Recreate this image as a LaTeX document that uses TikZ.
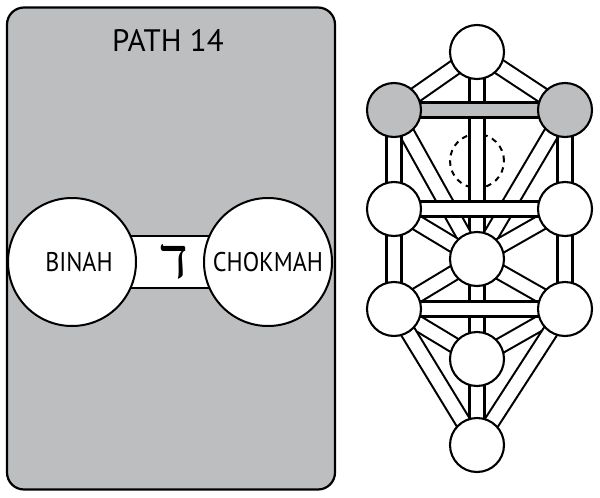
\documentclass[tikz,border=0pt]{standalone}
\usepackage{fontspec}
\setmainfont{PT Sans}
\newfontfamily\narrowfont[FakeStretch=0.89]{PT Sans}
\newfontfamily\hebrewfont[Script=Hebrew]{Liberation Serif}
\TeXXeTstate=1
\usepackage{xcolor}
\usepackage{tikz}
\usetikzlibrary{backgrounds}
\pgfdeclarelayer{panel}
\pgfsetlayers{panel,background,main}
\definecolor{pathgray}{RGB}{188,190,192}

\begin{document}
\begin{tikzpicture}[
    x=1pt,
    y=-1pt,
    card/.style={
        draw=black,
        line width=2.2pt,
        rounded corners=17pt,
        fill=pathgray,
        minimum width=328pt,
        minimum height=482pt,
        inner sep=0pt
    },
    heading/.style={font=\fontsize{31}{31}\selectfont},
    sphlabel/.style={font=\narrowfont\fontsize{27}{27}\selectfont},
    bigsphere/.style={
        circle,
        draw=black,
        line width=2pt,
        fill=white,
        minimum size=128pt,
        inner sep=0pt
    },
    sephirah/.style={
        circle,
        draw=black,
        line width=2.1pt,
        fill=white,
        minimum size=54pt,
        inner sep=0pt
    },
    supernal/.style={sephirah, fill=pathgray},
    veiled/.style={
        circle,
        draw=black,
        line width=2pt,
        dash pattern=on 5.5pt off 5pt,
        minimum size=54pt,
        inner sep=0pt
    },
    bridge/.style={draw=black, line width=2.2pt, double=white, double distance=50pt},
    pathway/.style={draw=black, line width=2.1pt, double=white, double distance=12.9pt},
    lit/.style={pathway, double=pathgray}
]
\useasboundingbox (0,0) rectangle (600,498);

% left card: path 14
\begin{pgfonlayer}{panel}
\node[card] (card) at (171,248.5) {};
\end{pgfonlayer}
\node[heading] (title) at (168,40.5) {PATH 14};

\node[bigsphere, label={[sphlabel, xshift=7pt]center:BINAH}] (lbinah) at (72,262) {};
\node[bigsphere, label={[sphlabel]center:CHOKMAH}] (lchokmah) at (268,262) {};
\begin{scope}[on background layer]
\draw[bridge] (lbinah.center) -- (lchokmah.center);
\end{scope}
\node[font=\hebrewfont\fontsize{58}{58}\selectfont] (dalet) at (174,262) {\beginR ד\endR};

% tree of life
\node[sephirah] (kether) at (477,52) {};
\node[supernal] (binah) at (394,110) {};
\node[supernal] (chokmah) at (565,110) {};
\node[sephirah] (geburah) at (394,209) {};
\node[sephirah] (chesed) at (565,209) {};
\node[sephirah] (tiphareth) at (477,259) {};
\node[sephirah] (hod) at (394,309) {};
\node[sephirah] (netzach) at (565,309) {};
\node[sephirah] (yesod) at (477,359) {};
\node[sephirah] (malkuth) at (477,445) {};

\begin{scope}[on background layer]
\node[veiled] (daath) at (477,161) {};
% paths between the sephiroth
\foreach \a/\b in {kether/chokmah, kether/binah, kether/tiphareth,
    chokmah/tiphareth, chokmah/chesed, binah/tiphareth, binah/geburah,
    chesed/tiphareth, chesed/netzach, geburah/tiphareth, geburah/hod,
    tiphareth/netzach, tiphareth/yesod, tiphareth/hod,
    netzach/yesod, netzach/malkuth, hod/yesod, hod/malkuth, yesod/malkuth}
    \draw[pathway] (\a.center) -- (\b.center);
% horizontal paths lie on top
\draw[lit] (binah.center) -- (chokmah.center);
\foreach \a/\b in {geburah/chesed, hod/netzach}
    \draw[pathway] (\a.center) -- (\b.center);
\end{scope}

\end{tikzpicture}
\end{document}
